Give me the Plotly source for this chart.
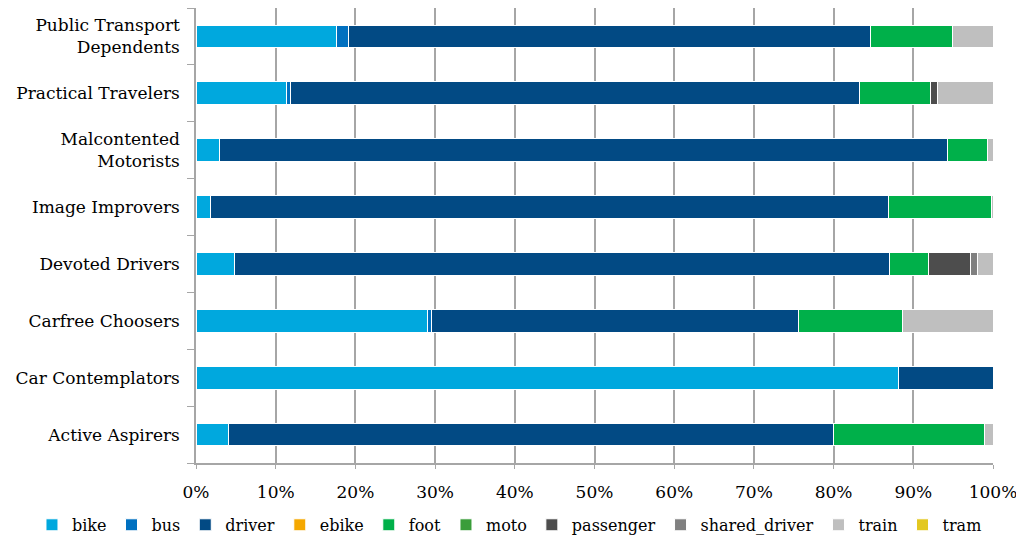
import plotly.graph_objects as go

categories = ["Active Aspirers", "Car Contemplators", "Carfree Choosers", "Devoted Drivers",
              "Image Improvers", "Malcontented<br>Motorists", "Practical Travelers",
              "Public Transport<br>Dependents"]

modes = ["bike", "bus", "driver", "ebike", "foot", "moto", "passenger", "shared_driver", "train", "tram"]

bike          = [4.1, 88.2, 29.0, 4.8, 1.8, 2.9, 11.4, 17.6]
bus           = [0.0, 0.0, 0.6, 0.0, 0.0, 0.0, 0.5, 1.5]
driver        = [75.9, 11.8, 46.0, 82.2, 85.1, 91.4, 71.3, 65.5]
ebike         = [0.0, 0.0, 0.0, 0.0, 0.0, 0.0, 0.0, 0.0]
foot          = [18.9, 0.0, 13.0, 4.9, 12.9, 5.0, 9.0, 10.3]
moto          = [0.0, 0.0, 0.0, 0.0, 0.0, 0.0, 0.0, 0.0]
passenger     = [0.0, 0.0, 0.0, 5.3, 0.0, 0.0, 0.8, 0.0]
shared_driver = [0.0, 0.0, 0.0, 0.9, 0.0, 0.0, 0.0, 0.0]
train         = [1.1, 0.0, 11.4, 1.9, 0.2, 0.7, 7.0, 5.1]
tram          = [0.0, 0.0, 0.0, 0.0, 0.0, 0.0, 0.0, 0.0]

series = [bike, bus, driver, ebike, foot, moto, passenger, shared_driver, train, tram]
colors = ["#00A8DE", "#0070C0", "#024A84", "#F5A800", "#00B04A", "#3A9D3A",
          "#4D4D4D", "#808080", "#BFBFBF", "#E3C820"]

FONT = "DejaVu Serif"
FS = 17

fig = go.Figure()
for name, vals, col in zip(modes, series, colors):
    fig.add_trace(go.Bar(
        y=categories, x=[v / 100 for v in vals], name=name, orientation="h",
        marker=dict(color=col, line=dict(color="white", width=1)),
    ))

fig.update_layout(
    barmode="stack",
    bargap=0.6,
    width=1016, height=537,
    margin=dict(l=188, r=31, t=0, b=82, autoexpand=False),
    plot_bgcolor="white", paper_bgcolor="white",
    font=dict(family=FONT, size=FS, color="#000000"),
    xaxis=dict(range=[0, 1], tickformat=".0%", dtick=0.1, showgrid=True, tickangle=0,
               gridcolor="#A6A6A6", gridwidth=1.5, showline=True, linecolor="#A6A6A6",
               linewidth=1.5, ticks="outside", ticklen=4, tickcolor="#A6A6A6",
               zeroline=False, tickfont=dict(size=FS, family=FONT), ticklabelstandoff=9,
               automargin=False),
    yaxis=dict(showline=True, linecolor="#A6A6A6", linewidth=1.5, ticks="outside",
               tickson="boundaries", ticklen=7, tickcolor="#A6A6A6", showgrid=False,
               tickfont=dict(size=FS, family=FONT), ticklabelstandoff=11, automargin=False),
    legend=dict(orientation="h", x=-0.2058, xanchor="left",
                y=-0.136, yanchor="middle", font=dict(size=16, family=FONT),
                traceorder="normal", itemwidth=30),
    showlegend=True,
)

fig.write_html("out.html")
